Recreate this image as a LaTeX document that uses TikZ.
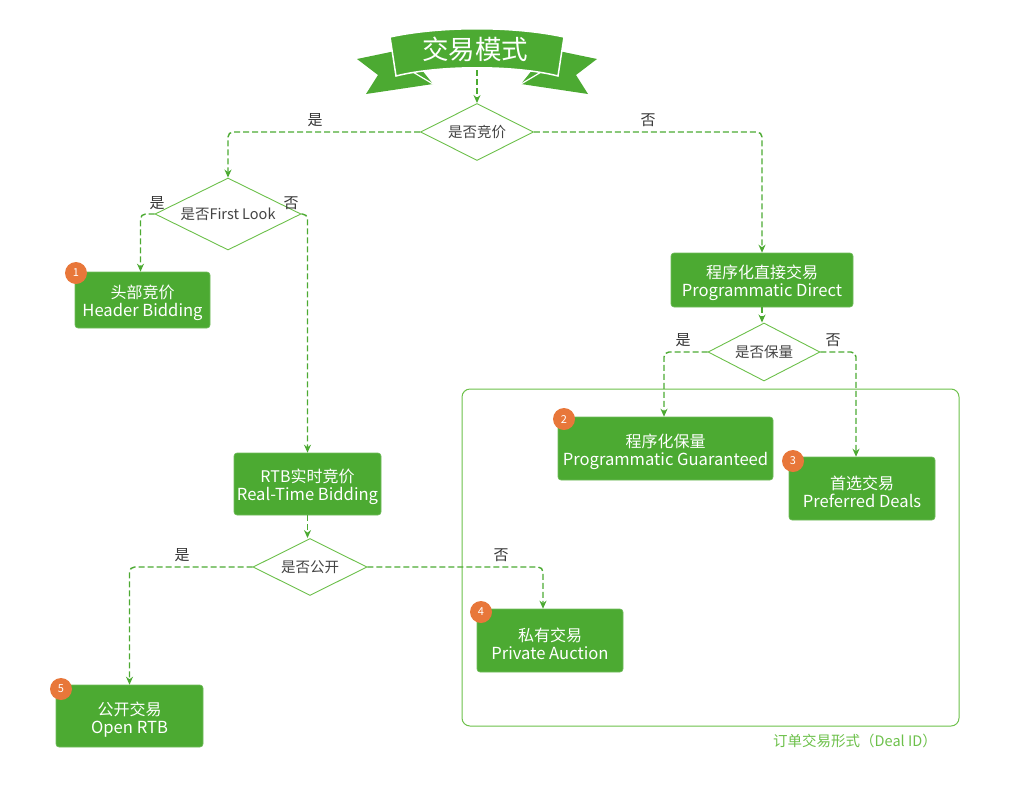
\documentclass[tikz,border=0pt]{standalone}
\usepackage{fontspec}
\setmainfont{Noto Sans CJK SC}
\usetikzlibrary{shapes.geometric,arrows.meta,calc}
\definecolor{gbox}{HTML}{4CAA32}
\definecolor{gline}{HTML}{4CAA32}
\definecolor{gdia}{HTML}{6CC04A}
\definecolor{obadge}{HTML}{E8773A}
\definecolor{tgray}{HTML}{444444}
\definecolor{gframe}{HTML}{6CC04A}
\newcommand{\twoline}[2]{{\fontsize{16}{19}\selectfont\rule{0pt}{20pt}#1}\\[-1pt]{\fontsize{16.6}{19}\selectfont #2}}
\begin{document}
\begin{tikzpicture}[x=1pt,y=-1pt,
  boxnode/.style={draw=gbox!80!white,line width=0.6pt,fill=gbox,rounded corners=3pt,text=white,align=center,font=\fontsize{16}{19}\selectfont,inner sep=0pt},
  dianode/.style={diamond,aspect=2,draw=gdia,line width=0.9pt,fill=white,text=tgray,inner sep=0pt,font=\fontsize{14.5}{16}\selectfont},
  conn/.style={draw=gline,line width=1.4pt,dash pattern=on 6pt off 3pt,rounded corners=5pt,-{Stealth[length=8pt,width=7pt]}},
  yesno/.style={text=tgray!80!black,font=\fontsize{15}{18}\selectfont,inner sep=0pt},
  badge/.style={circle,fill=obadge,text=white,minimum size=22pt,inner sep=0pt,font=\fontsize{11}{12}\selectfont}
]
\useasboundingbox (0,0) rectangle (1027,809);
% banner
\fill[gbox] (357,59) -- (405,49) -- (433,84) -- (366,94) -- (378,75) -- cycle;
\fill[gbox] (597,59) -- (549,49) -- (521,84) -- (588,94) -- (576,75) -- cycle;
\draw[white,line width=1.2pt] (396,62) -- (433,84);
\draw[white,line width=1.2pt] (558,62) -- (521,84);
\filldraw[fill=gbox,draw=white,line width=1.5pt] (390,37) .. controls (440,26) and (514,26) .. (564,37) -- (558,76) .. controls (515,65) and (439,65) .. (396,76) -- cycle;
\node[text=white,font=\fontsize{26.5}{28}\selectfont,inner sep=0pt] (title) at (475,49) {交易模式};
\coordinate (tb) at (477,70);
% frame
\draw[gframe,line width=1pt,rounded corners=8pt] (462,389) rectangle (959,726);
\node[text=gframe,font=\fontsize{14.5}{16}\selectfont,inner sep=0pt] (framelbl) at (855,741) {订单交易形式（Deal ID）};
% diamonds
\node[dianode,minimum width=113pt,minimum height=57pt] (d1) at (477,132) {是否竞价};
\node[dianode,minimum width=146pt,minimum height=72pt] (d2) at (228,214) {是否First Look};
\node[dianode,minimum width=114pt,minimum height=57pt] (d3) at (310,567) {是否公开};
\node[dianode,minimum width=112pt,minimum height=58pt] (d4) at (764,352) {是否保量};
% boxes
\node[boxnode,minimum width=135pt,minimum height=56pt] (b1) at (142.5,300) {\twoline{头部竞价}{Header Bidding}};
\node[boxnode,minimum width=147pt,minimum height=62pt] (rtb) at (307.5,484) {\twoline{RTB实时竞价}{Real-Time Bidding}};
\node[boxnode,minimum width=147pt,minimum height=62pt] (b5) at (129.5,716) {\twoline{公开交易}{Open RTB}};
\node[boxnode,minimum width=146pt,minimum height=63pt] (b4) at (550,640.5) {\twoline{私有交易}{Private Auction}};
\node[boxnode,minimum width=182pt,minimum height=54pt] (pd) at (762,280) {\twoline{程序化直接交易}{Programmatic Direct}};
\node[boxnode,minimum width=215pt,minimum height=63pt] (b2) at (665.5,448.5) {\twoline{程序化保量}{Programmatic Guaranteed}};
\node[boxnode,minimum width=146pt,minimum height=63pt] (b3) at (862,488.5) {\twoline{首选交易}{Preferred Deals}};
% badges
\node[badge] (n1) at (76,273) {1};
\node[badge] (n2) at (564,419) {2};
\node[badge] (n3) at (793,461) {3};
\node[badge] (n4) at (481,612) {4};
\node[badge] (n5) at (61,689) {5};
% connectors
\draw[conn] (tb) -- (d1.north);
\draw[conn] (d1.west) -| (d2.north);
\draw[conn] (d1.east) -| (pd.north);
\draw[conn] (d2.west) -| ([xshift=-2pt]b1.north);
\draw[conn] (d2.east) -| (rtb.north);
\draw[conn] (rtb.south) -- (rtb.south |- d3.north);
\draw[conn] (d3.west) -| (b5.north);
\draw[conn] (d3.east) -| ([xshift=-7pt]b4.north);
\draw[conn] (pd.south) -- (pd.south |- d4.north);
\draw[conn] (d4.west) -| ([xshift=-1.5pt]b2.north);
\draw[conn] (d4.east) -| ([xshift=-6pt]b3.north);
% yes/no labels
\node[yesno] (l1) at (315,120) {是};
\node[yesno] (l2) at (648,120) {否};
\node[yesno] (l3) at (157,203) {是};
\node[yesno] (l4) at (291,203) {否};
\node[yesno] (l5) at (182,555) {是};
\node[yesno] (l6) at (501,555) {否};
\node[yesno] (l7) at (683,340) {是};
\node[yesno] (l8) at (833,340) {否};
\end{tikzpicture}
\end{document}
